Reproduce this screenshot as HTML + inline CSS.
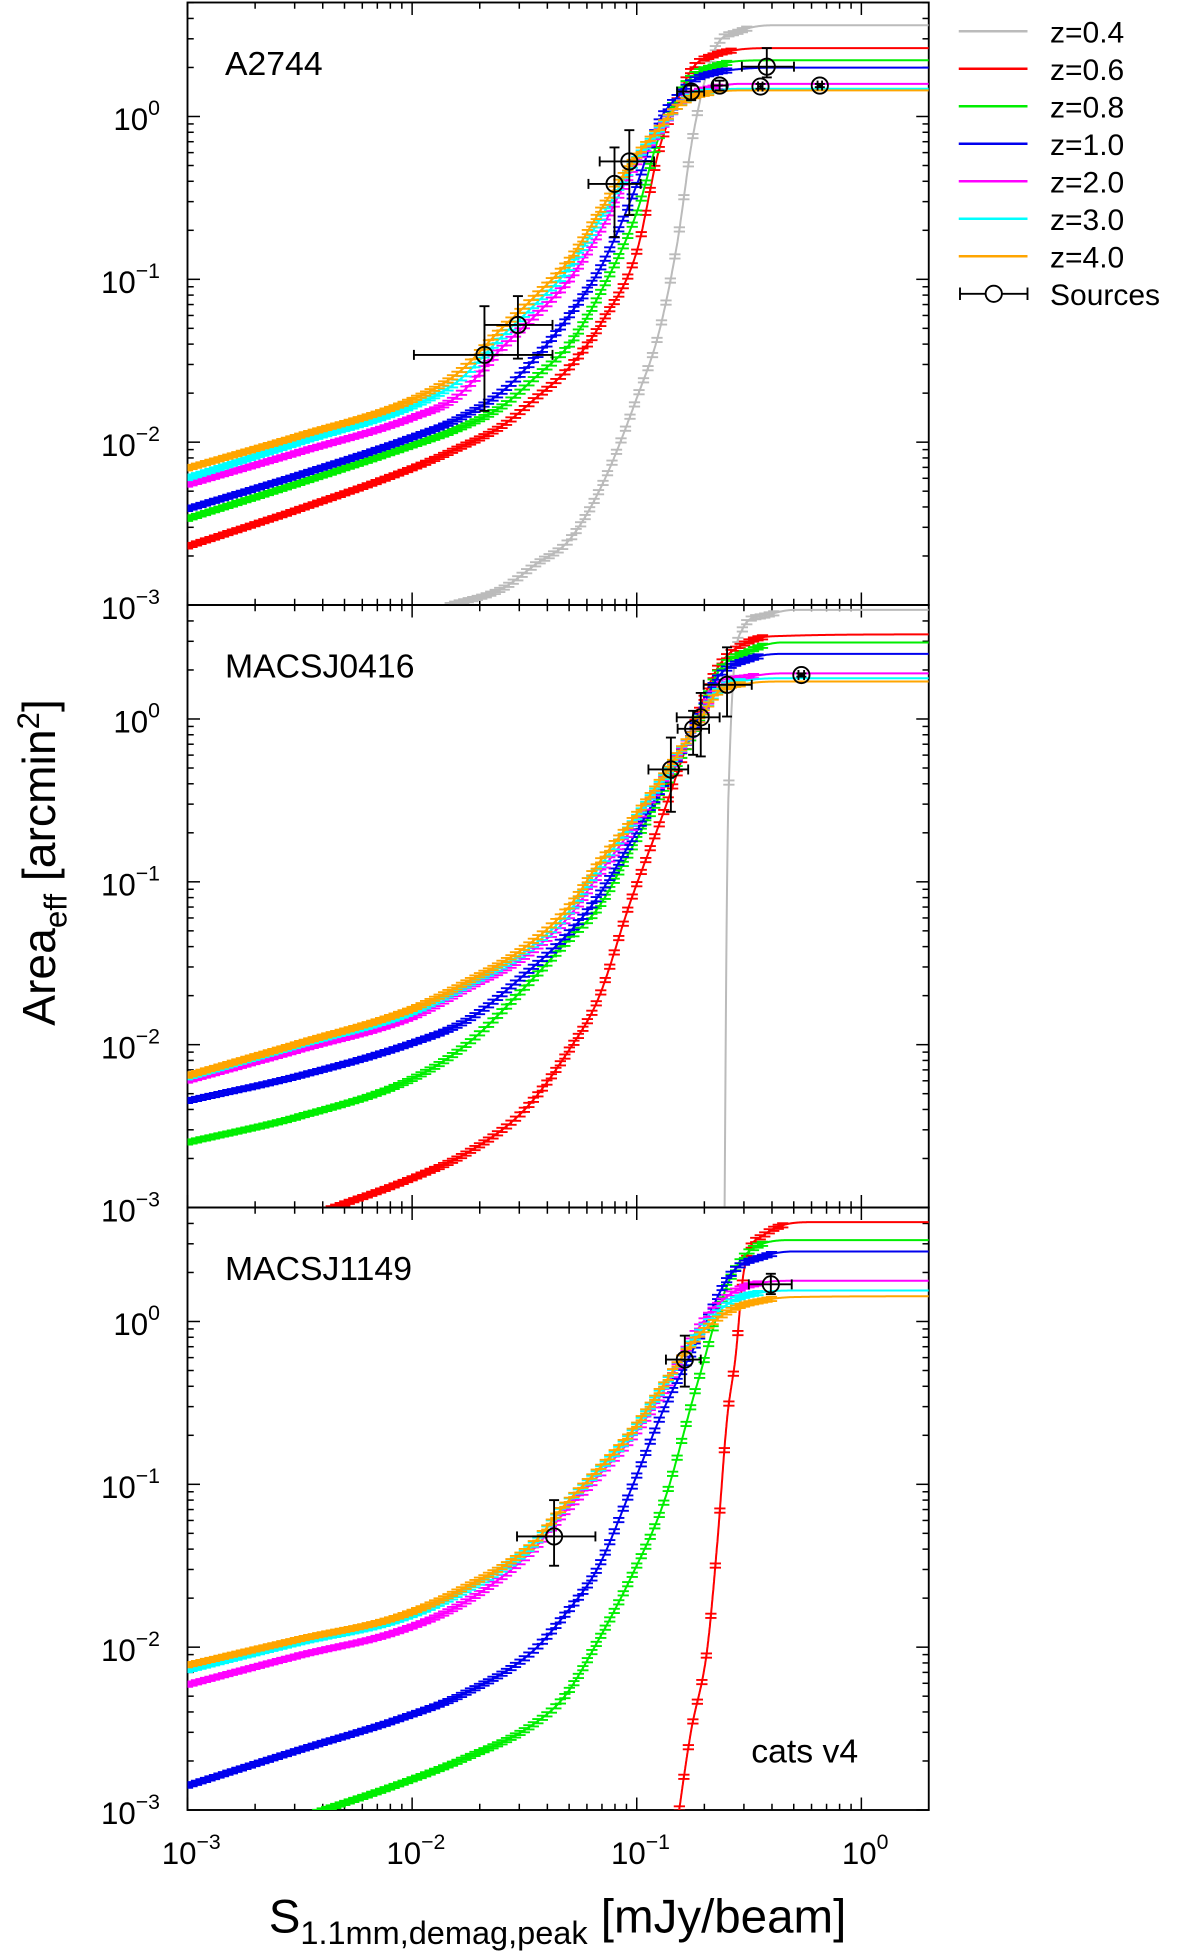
<!DOCTYPE html>
<html><head><meta charset="utf-8"><style>
html,body{margin:0;padding:0;background:#fff;}
svg{display:block;font-family:"Liberation Sans",sans-serif;}
</style></head><body>
<svg id="chart" width="1200" height="1958" viewBox="0 0 960 1566.4" xmlns="http://www.w3.org/2000/svg">
<g id="plots"></g>
<g id="legend">
  <line x1="767" y1="25" x2="822" y2="25" stroke="#bbbbbb" stroke-width="2"/>
  <text x="840" y="34" font-size="24">z=0.4</text>
  <line x1="767" y1="55" x2="822" y2="55" stroke="#ff0000" stroke-width="2"/>
  <text x="840" y="64" font-size="24">z=0.6</text>
  <line x1="767" y1="85" x2="822" y2="85" stroke="#00ee00" stroke-width="2"/>
  <text x="840" y="94" font-size="24">z=0.8</text>
  <line x1="767" y1="115" x2="822" y2="115" stroke="#0000ee" stroke-width="2"/>
  <text x="840" y="124" font-size="24">z=1.0</text>
  <line x1="767" y1="145" x2="822" y2="145" stroke="#ff00ff" stroke-width="2"/>
  <text x="840" y="154" font-size="24">z=2.0</text>
  <line x1="767" y1="175" x2="822" y2="175" stroke="#00ffff" stroke-width="2"/>
  <text x="840" y="184" font-size="24">z=3.0</text>
  <line x1="767" y1="205" x2="822" y2="205" stroke="#ffa500" stroke-width="2"/>
  <text x="840" y="214" font-size="24">z=4.0</text>
  <g stroke="#000" stroke-width="1.5" fill="none">
    <line x1="768" y1="235" x2="822" y2="235"/><line x1="768" y1="230" x2="768" y2="240"/><line x1="822" y1="230" x2="822" y2="240"/>
    <circle cx="795" cy="235" r="6.5" fill="#fff"/>
  </g>
  <text x="840" y="244" font-size="24">Sources</text>
</g>
<text transform="translate(44,690) rotate(-90)" text-anchor="middle" font-size="37">Area<tspan font-size="25" dy="9">eff</tspan><tspan dy="-9"> [arcmin</tspan><tspan font-size="25" dy="-13">2</tspan><tspan dy="13">]</tspan></text>
<text x="446" y="1546" text-anchor="middle" font-size="38">S<tspan font-size="26" dy="9">1.1mm,demag,peak</tspan><tspan dy="-9"> [mJy/beam]</tspan></text>
</svg>
<script>
// ---------- data (log10 S, log10 Area) ----------
const seriesNames = ["z=0.4","z=0.6","z=0.8","z=1.0","z=2.0","z=3.0","z=4.0"];
const seriesColors = ["#bbbbbb","#ff0000","#00ee00","#0000ee","#ff00ff","#00ffff","#ffa500"];
const xTickLabels = ["-3","-2","-1","0"];
const yTickLabels = ["0","-1","-2","-3"];

// Panel 1: A2744
const p1Grid    = [-3,-2.5,-2,-1.8,-1.6,-1.45,-1.3,-1.15,-1,-0.9,-0.82,-0.75,-0.65,-0.55,-0.4,0.3];
const p1Red     = [-2.64,-2.41,-2.16,-2.04,-1.90,-1.73,-1.54,-1.25,-0.83,-0.2,0.1,0.3,0.38,0.41,0.42,0.42];
const p1Green   = [-2.47,-2.25,-2.02,-1.92,-1.78,-1.6,-1.4,-1.05,-0.59,-0.12,0.12,0.25,0.31,0.34,0.345,0.345];
const p1Blue    = [-2.41,-2.2,-1.97,-1.86,-1.69,-1.48,-1.22,-0.9,-0.42,-0.03,0.12,0.22,0.27,0.29,0.3,0.3];
const p1Magenta = [-2.26,-2.06,-1.85,-1.72,-1.42,-1.22,-1.0,-0.67,-0.28,-0.09,0.06,0.14,0.18,0.2,0.2,0.2];
const p1Cyan    = [-2.22,-2.0,-1.78,-1.63,-1.35,-1.15,-0.93,-0.6,-0.26,-0.08,0.06,0.13,0.16,0.17,0.17,0.17];
const p1Orange  = [-2.16,-1.96,-1.74,-1.58,-1.3,-1.1,-0.88,-0.55,-0.24,-0.07,0.06,0.12,0.15,0.16,0.16,0.16];
const p1GrayX   = [-1.83,-1.6,-1.45,-1.3,-1.15,-1,-0.9,-0.82,-0.75,-0.65,-0.55,-0.4,0.3];
const p1GrayY   = [-3,-2.9,-2.75,-2.6,-2.25,-1.73,-1.32,-0.78,-0.12,0.42,0.52,0.56,0.56];
const p1SrcS    = [-1.678,-1.529,-1.099,-1.033,-0.758,-0.631,-0.449,-0.421,-0.185];
const p1SrcSlo  = [-1.992,-1.678,-1.215,-1.165,-0.82,-0.66,-0.46,-0.532,-0.195];
const p1SrcShi  = [-1.375,-1.375,-0.983,-0.923,-0.70,-0.60,-0.44,-0.30,-0.175];
const p1SrcA    = [-1.464,-1.28,-0.414,-0.276,0.153,0.19,0.184,0.306,0.19];
const p1SrcAlo  = [-1.808,-1.487,-0.74,-0.605,0.1,0.16,0.17,0.24,0.18];
const p1SrcAhi  = [-1.165,-1.103,-0.19,-0.084,0.19,0.22,0.2,0.42,0.2];

// Panel 2: MACSJ0416
const p2Grid    = [-3,-2.5,-2,-1.75,-1.5,-1.3,-1.172,-1.025,-0.877,-0.73,-0.642,-0.494,-0.35,0.3];
const p2Red     = [-3.4,-3.08,-2.82,-2.66,-2.40,-2.03,-1.72,-1.11,-0.56,0.02,0.31,0.48,0.51,0.52];
const p2Green   = [-2.6,-2.44,-2.21,-1.99,-1.65,-1.35,-1.16,-0.80,-0.42,-0.03,0.28,0.42,0.47,0.47];
const p2Blue    = [-2.345,-2.19,-1.99,-1.845,-1.57,-1.31,-1.09,-0.75,-0.39,-0.01,0.25,0.37,0.40,0.40];
const p2Magenta = [-2.22,-2.03,-1.83,-1.65,-1.46,-1.21,-0.96,-0.68,-0.36,-0.03,0.19,0.26,0.28,0.28];
const p2Cyan    = [-2.2,-2.0,-1.8,-1.63,-1.43,-1.18,-0.92,-0.65,-0.35,-0.03,0.17,0.24,0.25,0.25];
const p2Orange  = [-2.19,-1.99,-1.78,-1.61,-1.405,-1.15,-0.89,-0.63,-0.34,-0.03,0.16,0.22,0.23,0.23];
const p2GrayX   = [-0.61,-0.6,-0.59,-0.53,-0.45,-0.3,0.3];
const p2GrayY   = [-3.2,-1.3,-0.39,0.55,0.63,0.67,0.67];
const p2SrcS    = [-0.848,-0.749,-0.715,-0.598,-0.267];
const p2SrcSlo  = [-0.948,-0.818,-0.822,-0.702,-0.28];
const p2SrcShi  = [-0.771,-0.678,-0.631,-0.488,-0.255];
const p2SrcA    = [-0.31,-0.06,0.01,0.21,0.27];
const p2SrcAlo  = [-0.57,-0.22,-0.23,0.015,0.26];
const p2SrcAhi  = [-0.114,0.05,0.16,0.44,0.28];

// Panel 3: MACSJ1149
const p3Grid    = [-3,-2.5,-2.056,-1.761,-1.467,-1.32,-1.172,-1.025,-0.877,-0.73,-0.582,-0.435,-0.3,0.3];
const p3Green   = [-3.3,-3.05,-2.84,-2.68,-2.48,-2.30,-1.96,-1.57,-1.10,-0.38,0.27,0.48,0.50,0.50];
const p3Blue    = [-2.85,-2.63,-2.44,-2.28,-2.03,-1.80,-1.51,-1.03,-0.53,-0.12,0.29,0.40,0.43,0.43];
const p3Magenta = [-2.23,-2.05,-1.90,-1.72,-1.41,-1.17,-0.95,-0.72,-0.42,-0.05,0.17,0.24,0.25,0.25];
const p3Cyan    = [-2.14,-1.97,-1.83,-1.65,-1.38,-1.13,-0.92,-0.69,-0.39,-0.08,0.12,0.18,0.19,0.19];
const p3Orange  = [-2.11,-1.95,-1.81,-1.63,-1.37,-1.125,-0.91,-0.68,-0.38,-0.095,0.07,0.13,0.15,0.155];
const p3RedX    = [-0.83,-0.811,-0.76,-0.686,-0.642,-0.598,-0.56,-0.523,-0.435,-0.214,0.3];
const p3RedY    = [-3.2,-3,-2.53,-2.01,-1.37,-0.60,-0.215,0.31,0.53,0.61,0.61];
const p3SrcS    = [-1.368,-0.786,-0.403];
const p3SrcSlo  = [-1.533,-0.870,-0.501];
const p3SrcShi  = [-1.184,-0.715,-0.31];
const p3SrcA    = [-1.32,-0.234,0.228];
const p3SrcAlo  = [-1.50,-0.40,0.168];
const p3SrcAhi  = [-1.097,-0.087,0.293];

// ---------- layout ----------
const NS = "http://www.w3.org/2000/svg";
const L = 150, R = 743, XMIN = -3, XMAX = 0.3, YMIN = -3, YMAX = 0.7;
const panelTops = [2, 484, 966], PH = 482;
const sx = v => L + (v - XMIN) / (XMAX - XMIN) * (R - L);
function mk(tag, attrs, parent){ const e = document.createElementNS(NS, tag); for (const k in attrs) e.setAttribute(k, attrs[k]); parent.appendChild(e); return e; }
const root = document.getElementById('plots');

const panels = [
 {name:"A2744", slug:"a2744", series:[[p1GrayX,p1GrayY],[p1Grid,p1Red],[p1Grid,p1Green],[p1Grid,p1Blue],[p1Grid,p1Magenta],[p1Grid,p1Cyan],[p1Grid,p1Orange]],
  src:[p1SrcS,p1SrcSlo,p1SrcShi,p1SrcA,p1SrcAlo,p1SrcAhi]},
 {name:"MACSJ0416", slug:"macsj0416", series:[[p2GrayX,p2GrayY],[p2Grid,p2Red],[p2Grid,p2Green],[p2Grid,p2Blue],[p2Grid,p2Magenta],[p2Grid,p2Cyan],[p2Grid,p2Orange]],
  src:[p2SrcS,p2SrcSlo,p2SrcShi,p2SrcA,p2SrcAlo,p2SrcAhi]},
 {name:"MACSJ1149", slug:"macsj1149", series:[null,[p3RedX,p3RedY],[p3Grid,p3Green],[p3Grid,p3Blue],[p3Grid,p3Magenta],[p3Grid,p3Cyan],[p3Grid,p3Orange]],
  src:[p3SrcS,p3SrcSlo,p3SrcShi,p3SrcA,p3SrcAlo,p3SrcAhi]}
];

// monotone cubic (Fritsch-Carlson) interpolation
function makeSpline(xs, ys){
  const n = xs.length, d = [], m = new Array(n);
  for (let i = 0; i < n-1; i++) d.push((ys[i+1]-ys[i])/(xs[i+1]-xs[i]));
  m[0] = d[0]; m[n-1] = d[n-2];
  for (let i = 1; i < n-1; i++) m[i] = (d[i-1]*d[i] <= 0) ? 0 : (d[i-1]+d[i])/2;
  for (let i = 0; i < n-1; i++) {
    if (d[i] === 0) { m[i] = 0; m[i+1] = 0; continue; }
    const a = m[i]/d[i], b = m[i+1]/d[i], s = a*a + b*b;
    if (s > 9) { const t = 3/Math.sqrt(s); m[i] = t*a*d[i]; m[i+1] = t*b*d[i]; }
  }
  return x => {
    if (x < xs[0] || x > xs[n-1]) return null;
    let i = 0; while (i < n-2 && x > xs[i+1]) i++;
    const h = xs[i+1]-xs[i], t = (x-xs[i])/h, t2 = t*t, t3 = t2*t;
    return (2*t3-3*t2+1)*ys[i] + (t3-2*t2+t)*h*m[i] + (-2*t3+3*t2)*ys[i+1] + (t3-t2)*h*m[i+1];
  };
}

panels.forEach((p, pi) => {
  const top = panelTops[pi], bot = top + PH;
  const sy = v => bot - (v - YMIN) / (YMAX - YMIN) * PH;
  const g = mk('g', {}, root);
  
  
  const cp = mk('clipPath', {id:'clip'+pi}, g);
  mk('rect', {x:L, y:top, width:R-L, height:PH}, cp);

  const ax = mk('g', {stroke:'#000','stroke-width':1.2}, g);
  
  
  for (let d = -3; d <= 0; d++) {
    for (let m = 1; m <= 9; m++) {
      const v = d + Math.log10(m); if (v > XMAX) continue;
      const x = sx(v), len = m === 1 ? 10 : 5;
      mk('line', {x1:x, y1:bot, x2:x, y2:bot-len}, ax);
      mk('line', {x1:x, y1:top, x2:x, y2:top+len}, ax);
    }
  }
  for (let d = -3; d <= 0; d++) {
    for (let m = 1; m <= 9; m++) {
      const v = d + Math.log10(m); if (v > YMAX) continue;
      const y = sy(v), len = m === 1 ? 10 : 5;
      mk('line', {x1:L, y1:y, x2:L+len, y2:y}, ax);
      mk('line', {x1:R, y1:y, x2:R-len, y2:y}, ax);
    }
  }
  mk('rect', {x:L, y:top, width:R-L, height:PH, fill:'none', stroke:'#000','stroke-width':1.5}, g);

  yTickLabels.forEach(lab => {
    const t = mk('text', {x:128, y:sy(+lab)+11, 'text-anchor':'end', 'font-size':25}, g);
    
    
    t.textContent = '10';
    const ts = mk('tspan', {dy:-12, 'font-size':17}, t);
    ts.textContent = lab.replace('-', '\u2212');
  });

  const cg = mk('g', {'clip-path':'url(#clip'+pi+')'}, g);
  p.series.forEach((s, si) => {
    if (!s) return;
    const [xs, ys] = s;
    const f = makeSpline(xs, ys);
    const col = seriesColors[si];
    const sg = mk('g', {}, cg);
    
    
    const pts = [];
    const x0 = xs[0], x1 = xs[xs.length-1];
    for (let k = 0; k <= 800; k++) {
      const x = x0 + (x1 - x0) * k / 800;
      pts.push(sx(x).toFixed(1) + ',' + sy(f(x)).toFixed(1));
    }
    mk('polyline', {points:pts.join(' '), fill:'none', stroke:col, 'stroke-width':1.6}, sg);
    const final = ys[ys.length-1];
    let d = '';
    for (let x = x0; x <= x1; x += 0.02) {
      const v = f(x);
      if (v === null || v < YMIN - 0.05 || v > final - 0.015) continue;
      const px = sx(x), py = sy(v);
      d += `M${(px-4.5).toFixed(1)},${(py-1.7).toFixed(1)}h9M${(px-4.5).toFixed(1)},${(py+1.7).toFixed(1)}h9M${px.toFixed(1)},${(py-1.7).toFixed(1)}v3.4`;
    }
    mk('path', {d:d, fill:'none', stroke:col, 'stroke-width':1.5}, sg);
  });

  const [S, Slo, Shi, A, Alo, Ahi] = p.src;
  S.forEach((s, i) => {
    const sgp = mk('g', {stroke:'#000','stroke-width':1.5, fill:'none'}, g);
    
    
    const cx = sx(s), cy = sy(A[i]);
    const x0 = sx(Slo[i]), x1 = sx(Shi[i]), y0 = sy(Alo[i]), y1 = sy(Ahi[i]);
    mk('line', {x1:x0, y1:cy, x2:x1, y2:cy}, sgp);
    mk('line', {x1:x0, y1:cy-4, x2:x0, y2:cy+4}, sgp);
    mk('line', {x1:x1, y1:cy-4, x2:x1, y2:cy+4}, sgp);
    mk('line', {x1:cx, y1:y0, x2:cx, y2:y1}, sgp);
    mk('line', {x1:cx-4, y1:y0, x2:cx+4, y2:y0}, sgp);
    mk('line', {x1:cx-4, y1:y1, x2:cx+4, y2:y1}, sgp);
    mk('circle', {cx:cx, cy:cy, r:6.5}, sgp);
  });

  const title = mk('text', {x:180, y:top+58, 'font-size':27}, g);
  
  
  title.textContent = p.name;
});

const bottomY = panelTops[2] + PH;
xTickLabels.forEach(lab => {
  const t = mk('text', {x:sx(+lab)+3, y:bottomY+43, 'text-anchor':'middle', 'font-size':25}, root);
  
  
  t.textContent = '10';
  const ts = mk('tspan', {dy:-12, 'font-size':17}, t);
  ts.textContent = lab.replace('-', '\u2212');
});
const cats = mk('text', {x:601, y:1410, 'font-size':27}, root);


cats.textContent = 'cats v4';
</script>
</body></html>
